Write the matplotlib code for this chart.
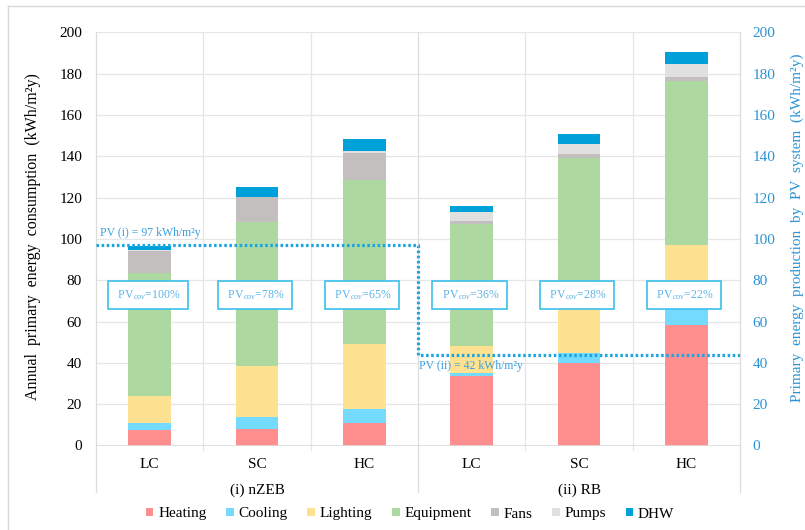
import numpy as np
import matplotlib
matplotlib.use('Agg')
import matplotlib.pyplot as plt
from matplotlib.patches import Patch
from matplotlib.lines import Line2D

plt.rcParams['font.family'] = ['Liberation Serif', 'DejaVu Serif']
plt.rcParams['mathtext.fontset'] = 'custom'
plt.rcParams['mathtext.rm'] = 'Liberation Serif'
plt.rcParams['mathtext.it'] = 'Liberation Serif:italic'

# data
cases = ['LC', 'SC', 'HC', 'LC', 'SC', 'HC']
groups = ['(i) nZEB', '(ii) RB']
heating = [7.5, 8.0, 11.0, 33.5, 39.7, 58.5]
cooling = [3.6, 5.8, 6.9, 1.6, 5.3, 7.5]
lighting = [13.1, 24.5, 31.3, 13.2, 24.5, 31.2]
equipment = [59.4, 69.7, 79.1, 59.0, 69.8, 79.2]
fans = [10.5, 12.2, 13.4, 1.6, 1.6, 1.8]
pumps = [0.3, 0.3, 0.7, 3.9, 5.2, 6.6]
dhw = [2.4, 4.6, 6.1, 2.9, 4.5, 5.6]
pv_cov = ['100%', '78%', '65%', '36%', '28%', '22%']
pv_prod = [97, 44]
pv_labels = ['PV (i) = 97 kWh/m\u00b2y', 'PV (ii) = 42 kWh/m\u00b2y']

names = ['Heating', 'Cooling', 'Lighting', 'Equipment', 'Fans', 'Pumps', 'DHW']
colors = ['#ff8f8f', '#75daff', '#ffe291', '#add9a0', '#c4bfbf', '#e0e0e0', '#00a0d8']
series = [heating, cooling, lighting, equipment, fans, pumps, dhw]

W, H = 805, 530
fig = plt.figure(figsize=(W / 100, H / 100), dpi=100)
ax_l, ax_r, ax_t, ax_b = 96, 740, 32.3, 445.5
ax = fig.add_axes([ax_l / W, 1 - ax_b / H, (ax_r - ax_l) / W, (ax_b - ax_t) / H])

x = np.arange(len(cases))
bottom = np.zeros(len(cases))
for vals, col in zip(series, colors):
    ax.bar(x, vals, 0.4, bottom=bottom, color=col, linewidth=0, zorder=2)
    bottom += np.array(vals)

ax.set_xlim(-0.5, 5.5)
ax.set_ylim(0, 200)
ax.set_yticks(np.arange(0, 201, 20))
ax.set_xticks([])
for s in ax.spines.values():
    s.set_visible(False)
ax.tick_params(axis='y', length=0, pad=10, labelsize=11)

grid_c = '#e6e6e6'
for v in np.arange(20, 201, 20):
    ax.axhline(v, color=grid_c, lw=0.9, zorder=0)
ax.axhline(0, color='#d9d9d9', lw=1.2, zorder=3)
trans = ax.get_xaxis_transform()
for b in [0.5, 1.5, 3.5, 4.5]:
    ax.plot([b, b], [-0.012, 1], color=grid_c, lw=0.9, transform=trans, clip_on=False, zorder=0)
for b in [-0.5, 2.5, 5.5]:
    ax.plot([b, b], [-0.113, 1], color='#dcdcdc', lw=0.9, transform=trans, clip_on=False, zorder=0)

# category and group labels
for xi, c in zip(x, cases):
    ax.text(xi, -0.045, c, transform=trans, ha='center', va='center', fontsize=11)
for gi, g in enumerate(groups):
    ax.text(1 + 3 * gi, -0.108, g, transform=trans, ha='center', va='center', fontsize=11)

ax.set_ylabel('Annual  primary  energy  consumption  (kWh/m\u00b2y)', fontsize=11.5)
ax.yaxis.set_label_coords(-0.085, 0.505)

# secondary axis for PV production
blue = '#2a93d5'
ax2 = ax.twinx()
ax2.set_ylim(0, 200)
ax2.set_yticks(np.arange(0, 201, 20))
for s in ax2.spines.values():
    s.set_visible(False)
ax2.tick_params(axis='y', length=0, pad=9, labelsize=11, labelcolor=blue)
ax2.set_ylabel('Primary  energy  production  by  PV  system  (kWh/m\u00b2y)', fontsize=11,
               color=blue, rotation=90)
ax2.yaxis.set_label_coords(1.078, 0.527)

line_c = '#1ba6e1'
ax2.plot([-0.5, 2.5, 2.5, 5.5], [pv_prod[0], pv_prod[0], pv_prod[1], pv_prod[1]],
         color=line_c, lw=2.3, linestyle=(0, (0.8, 0.8)), zorder=5)
ax2.text(-0.46, pv_prod[0] + 6, pv_labels[0], color='#3c9fe0', fontsize=8.5,
         ha='left', va='center')
ax2.text(2.51, pv_prod[1] - 5.5, pv_labels[1], color='#3c9fe0', fontsize=8.5,
         ha='left', va='center')

for xi, p in zip(x, pv_cov):
    ax2.text(xi - 0.02, 73, r' PV$_{\mathit{cov}}$=' + p + ' ', ha='center', va='center',
             fontsize=8.5, color='#5cb5e6', zorder=6,
             bbox=dict(boxstyle='square,pad=0.6', fc='white', ec='#3cbfec', lw=1.2))

# legend
handles = [Patch(facecolor=c, edgecolor='none') for c in colors]
fig.legend(handles, names, loc='center', bbox_to_anchor=(410 / W, 1 - 514 / H), ncol=7,
           frameon=False, fontsize=11, handlelength=0.5, handleheight=0.5,
           handletextpad=0.3, columnspacing=1.3)

# outer chart border
fig.add_artist(Line2D([7.5 / W, 7.5 / W], [0, 1 - 5.5 / H], color='#d9d9d9', lw=1))
fig.add_artist(Line2D([7.5 / W, 1], [1 - 5.5 / H, 1 - 5.5 / H], color='#d9d9d9', lw=1))

fig.savefig('out.png', dpi=100)
